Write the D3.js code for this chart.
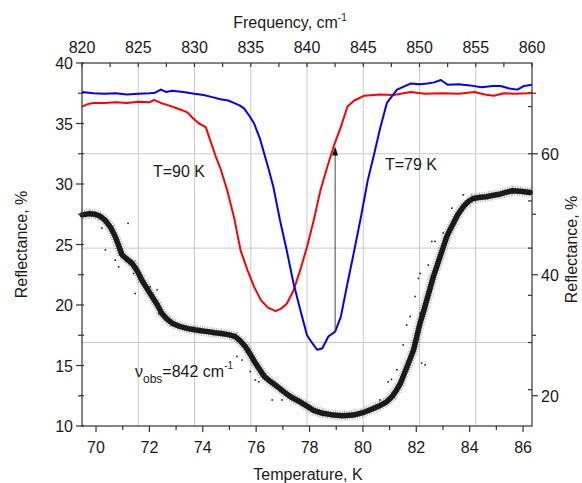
<!DOCTYPE html>
<html>
<head>
<meta charset="utf-8">
<script src="https://d3js.org/d3.v7.min.js"></script>
<style>
  body { margin: 0; background: #fff; }
  svg text { font-family: "Liberation Sans", Arial, sans-serif; fill: #1a1a1a; }
</style>
</head>
<body>
<div id="root"></div>
<script>
// ---- data ----
// T = 79 K spectrum (top axis: frequency, left axis: reflectance %)
const blueFreq = [820, 821, 822, 823, 824, 825, 826, 826.5, 827, 827.5, 828, 829, 830, 830.8, 831.5, 832.3, 833, 833.5, 834, 834.4,
  834.9, 835.3, 835.8, 836.2, 836.6, 837, 837.6, 838.2, 838.8, 839.4, 840, 840.5, 840.9, 841.35, 841.9, 842.5, 843, 843.6, 844.2, 844.8,
  845.4, 846, 846.5, 847.1, 848, 849.2, 850, 850.7, 851.3, 851.9, 852.5, 853.5, 854.5, 855.5, 856.5, 857.2, 858, 858.7, 859.3, 860];
const blueRefl = [37.6, 37.5, 37.45, 37.5, 37.4, 37.45, 37.5, 37.55, 37.8, 37.6, 37.7, 37.6, 37.45, 37.35, 37.2, 37.0, 36.9, 36.7, 36.5, 36.25,
  35.6, 35.0, 33.8, 32.5, 31.2, 29.8, 27.0, 24.5, 21.8, 19.6, 17.5, 16.8, 16.3, 16.4, 17.4, 17.8, 19.0, 21.8, 24.5, 27.3,
  30.3, 32.6, 34.6, 36.7, 37.8, 38.3, 38.25, 38.3, 38.4, 38.6, 38.2, 38.25, 38.15, 38.0, 38.1, 38.1, 37.9, 37.8, 38.1, 38.2];

// T = 90 K spectrum
const redFreq = [820, 820.5, 821, 822, 823, 824, 825, 826, 826.4, 827, 827.7, 828.3, 828.9, 829.4, 829.8, 830.4, 831, 831.4, 831.9, 832.3,
  832.9, 833.5, 834.1, 834.7, 835.3, 835.9, 836.5, 837.2, 837.7, 838.2, 838.8, 839.4, 840, 840.6, 841.2, 841.8, 842.4, 843, 843.6, 844.2,
  845.1, 846.5, 847.7, 849.2, 850.5, 852, 853.5, 854.9, 855.8, 856.6, 857.5, 858.5, 859.6, 860];
const redRefl = [36.4, 36.6, 36.7, 36.7, 36.75, 36.7, 36.8, 36.75, 36.95, 36.7, 36.5, 36.3, 36.1, 35.9, 35.5, 35.0, 34.7, 33.6, 32.25, 31.3,
  29.5, 27.3, 24.5, 22.9, 21.5, 20.4, 19.8, 19.5, 19.7, 20.1, 21.2, 22.9, 24.8, 27.0, 29.5, 31.4, 33.2, 34.7, 36.4, 36.9,
  37.3, 37.4, 37.35, 37.6, 37.45, 37.5, 37.45, 37.6, 37.4, 37.3, 37.5, 37.45, 37.5, 37.55];

// reflectance at 842 cm-1 vs temperature (bottom axis, right axis)
const tempK = [69.48, 69.75, 69.97, 70.15, 70.35, 70.55, 70.72, 70.85, 70.97, 71.15, 71.35, 71.55, 71.72, 71.9, 72.1, 72.3, 72.47, 72.65, 72.85, 73.05,
  73.2, 73.45, 73.7, 74.0, 74.2, 74.45, 74.7, 74.95, 75.2, 75.4, 75.6, 75.8, 75.97, 76.15, 76.3, 76.55, 76.8, 77.05, 77.3, 77.64,
  77.9, 78.14, 78.5, 78.9, 79.25, 79.64, 80.0, 80.39, 80.65, 80.89, 81.1, 81.27, 81.4, 81.5, 81.7, 81.9, 82.02, 82.14, 82.27, 82.39,
  82.52, 82.64, 82.77, 82.89, 83.02, 83.14, 83.27, 83.39, 83.55, 83.76, 83.95, 84.13, 84.4, 84.63, 84.85, 85.1, 85.35, 85.6, 85.9, 86.27];
const tempRefl = [49.9, 50.1, 50.0, 49.7, 49.0, 47.8, 46.3, 44.8, 43.3, 42.6, 41.9, 40.6, 39.1, 37.8, 36.4, 35.0, 33.6, 32.7, 32.0, 31.6,
  31.4, 31.1, 30.9, 30.7, 30.6, 30.4, 30.3, 30.1, 29.8, 29.1, 28.1, 26.7, 25.4, 24.2, 23.2, 22.3, 21.5, 20.6, 19.8, 19.0,
  18.3, 17.6, 17.1, 16.8, 16.7, 16.8, 17.2, 17.9, 18.4, 19.0, 19.9, 21.0, 22.0, 23.1, 25.3, 27.6, 29.8, 32.0, 33.9, 35.8,
  37.8, 39.7, 41.4, 43.0, 44.7, 46.3, 47.5, 48.5, 49.9, 51.25, 52.1, 52.6, 52.8, 52.9, 53.1, 53.3, 53.6, 53.9, 53.8, 53.6];
// stray points away from the dense band
const strayT = [70.22, 70.35, 70.72, 70.85, 71.2, 71.41, 71.47, 72.03, 72.29, 72.35, 72.6, 75.28, 75.47, 75.78, 75.97, 76.1, 76.6, 76.97,
  80.64, 80.95, 81.07, 81.27, 81.51, 81.64, 81.77, 81.95, 82.08, 82.14, 82.14, 82.2, 82.33, 82.45, 82.58, 82.7, 83.01, 83.33, 83.76];
const strayR = [47.7, 44.1, 42.4, 41.3, 48.5, 40.2, 36.9, 38.0, 37.5, 33.6, 33.1, 26.5, 25.9, 24.0, 22.6, 22.3, 19.3, 19.3,
  19.3, 22.3, 22.7, 24.3, 28.4, 31.7, 33.1, 36.4, 39.4, 40.2, 33.6, 25.4, 25.1, 41.6, 45.5, 45.5, 46.9, 51.0, 53.2];

// axes
const freqTicks = [820, 825, 830, 835, 840, 845, 850, 855, 860];
const tempTicks = [70, 72, 74, 76, 78, 80, 82, 84, 86];
const leftTicks = [10, 15, 20, 25, 30, 35, 40];
const rightTicks = [20, 40, 60];
const gridRefl = [32.5, 24.7, 16.9];          // horizontal grid of the spectra layer (left units)
const innerRefl = [36.4, 32.5, 28.6, 24.7, 20.8, 16.9, 13.0];

// arrow at nu_obs
const arrowFreq = 842.5;
const arrowFrom = 17.8, arrowTo = 33.1;

// ---- layout ----
const W = 582, H = 483;
const L = 82, R = 532, T = 63, B = 426;

const xF = d3.scaleLinear().domain([820, 860]).range([L, R]);
const xT = d3.scaleLinear().domain([69.475, 69.475 + (R - L) / 26.69]).range([L, R]);
const yL = d3.scaleLinear().domain([10, 40]).range([B, T]);
const yR = d3.scaleLinear().domain([15, 75]).range([B, T]);

const svg = d3.select("#root").append("svg")
  .attr("width", W).attr("height", H)
  .attr("xmlns", "http://www.w3.org/2000/svg");

// grid
const gridColor = "#c9c9c9";
svg.append("g").selectAll("line").data(freqTicks.slice(1, -1)).join("line")
  .attr("x1", d => xF(d)).attr("x2", d => xF(d)).attr("y1", T).attr("y2", B)
  .attr("stroke", gridColor).attr("stroke-width", 1);
svg.append("g").selectAll("line").data(gridRefl).join("line")
  .attr("x1", L).attr("x2", R).attr("y1", d => yL(d)).attr("y2", d => yL(d))
  .attr("stroke", gridColor).attr("stroke-width", 1);

// black temperature scan: fuzzy halo + dense core + stray points
const tempLine = d3.line().x(d => xT(d[0])).y(d => yR(d[1]));
const tempPts = tempK.map((t, i) => [t, tempRefl[i]]);
svg.append("path").attr("d", tempLine(tempPts))
  .attr("fill", "none").attr("stroke", "#000").attr("stroke-width", 10)
  .attr("stroke-dasharray", "1 1.4").attr("opacity", 0.3).attr("stroke-linejoin", "round");
svg.append("path").attr("d", tempLine(tempPts))
  .attr("fill", "none").attr("stroke", "#1a1a1a").attr("stroke-width", 5.5)
  .attr("stroke-linejoin", "round").attr("stroke-linecap", "round");
svg.append("g").selectAll("rect").data(strayT).join("rect")
  .attr("x", (d, i) => xT(d) - 0.8).attr("y", (d, i) => yR(strayR[i]) - 0.8)
  .attr("width", 1.6).attr("height", 1.6).attr("fill", "#222");

// spectra
const specLine = d3.line().x(d => xF(d[0])).y(d => yL(d[1]));
svg.append("path").attr("d", specLine(redFreq.map((f, i) => [f, redRefl[i]])))
  .attr("fill", "none").attr("stroke", "#ff0000").attr("stroke-width", 2).attr("stroke-linejoin", "round");
svg.append("path").attr("d", specLine(blueFreq.map((f, i) => [f, blueRefl[i]])))
  .attr("fill", "none").attr("stroke", "#0000ff").attr("stroke-width", 2).attr("stroke-linejoin", "round");

// arrow
const ax = xF(arrowFreq);
svg.append("line").attr("x1", ax).attr("x2", ax)
  .attr("y1", yL(arrowFrom)).attr("y2", yL(arrowTo) + 6)
  .attr("stroke", "#444").attr("stroke-width", 1);
svg.append("path")
  .attr("d", `M ${ax} ${yL(arrowTo)} L ${ax - 3} ${yL(arrowTo) + 9} L ${ax + 3} ${yL(arrowTo) + 9} Z`)
  .attr("fill", "#111");

// frame
const axisColor = "#333";
svg.append("rect").attr("x", L).attr("y", T).attr("width", R - L).attr("height", B - T)
  .attr("fill", "none").attr("stroke", axisColor).attr("stroke-width", 1.2);

// ticks helper
function ticks(vals, pos, x1, y1, x2, y2) {
  svg.append("g").selectAll("line").data(vals).join("line")
    .attr("x1", d => x1(pos(d))).attr("y1", d => y1(pos(d)))
    .attr("x2", d => x2(pos(d))).attr("y2", d => y2(pos(d)))
    .attr("stroke", axisColor).attr("stroke-width", 1.2);
}
const half = (arr) => arr.slice(0, -1).map((d, i) => (d + arr[i + 1]) / 2);

// bottom (temperature), outward
ticks(tempTicks, xT, p => p, () => B, p => p, () => B + 6);
ticks(half(tempTicks), xT, p => p, () => B, p => p, () => B + 4);
// top (frequency), inward
ticks(freqTicks.concat(half(freqTicks)), xF, p => p, () => T, p => p, () => T + 4);
// left
ticks(leftTicks, yL, () => L - 6, p => p, () => L + 2, p => p);
ticks(half(leftTicks), yL, () => L - 4, p => p, () => L + 2, p => p);
// right: labelled axis outward, spectra frame inward
ticks(rightTicks, yR, () => R, p => p, () => R + 6, p => p);
ticks([30, 50, 70], yR, () => R, p => p, () => R + 4, p => p);
ticks(innerRefl, yL, () => R - 4, p => p, () => R, p => p);

// tick labels
const fs = 16;
svg.append("g").selectAll("text").data(freqTicks).join("text")
  .attr("x", d => xF(d)).attr("y", 53).attr("text-anchor", "middle").attr("font-size", fs).text(d => d);
svg.append("g").selectAll("text").data(tempTicks).join("text")
  .attr("x", d => xT(d)).attr("y", 453).attr("text-anchor", "middle").attr("font-size", fs).text(d => d);
svg.append("g").selectAll("text").data(leftTicks).join("text")
  .attr("x", L - 9).attr("y", d => yL(d) + 6).attr("text-anchor", "end").attr("font-size", fs).text(d => d);
svg.append("g").selectAll("text").data(rightTicks).join("text")
  .attr("x", R + 9).attr("y", d => yR(d) + 6).attr("text-anchor", "start").attr("font-size", fs).text(d => d);

// axis titles
const topTitle = svg.append("text").attr("x", 290).attr("y", 28).attr("font-size", fs).attr("text-anchor", "middle");
topTitle.append("tspan").text("Frequency, cm");
topTitle.append("tspan").attr("font-size", 10).attr("dy", -7).text("-1");
svg.append("text").attr("x", 308).attr("y", 480).attr("text-anchor", "middle").attr("font-size", fs)
  .text("Temperature, K");
svg.append("text").attr("transform", `translate(27, ${(T + B) / 2}) rotate(-90)`)
  .attr("text-anchor", "middle").attr("font-size", fs).text("Reflectance, %");
svg.append("text").attr("transform", `translate(577, ${(T + B) / 2 + 5}) rotate(-90)`)
  .attr("text-anchor", "middle").attr("font-size", fs).text("Reflectance, %");

// annotations
svg.append("text").attr("x", 153).attr("y", 177).attr("font-size", fs).text("T=90 K");
svg.append("text").attr("x", 385).attr("y", 170).attr("font-size", fs).text("T=79 K");
const nu = svg.append("text").attr("x", 135).attr("y", 377).attr("font-size", fs);
nu.append("tspan").text("\u03bd");
nu.append("tspan").attr("font-size", 12).attr("dy", 6).text("obs");
nu.append("tspan").attr("dy", -6).text("=842 cm");
nu.append("tspan").attr("font-size", 10).attr("dy", -8).text("-1");
</script>
</body>
</html>
